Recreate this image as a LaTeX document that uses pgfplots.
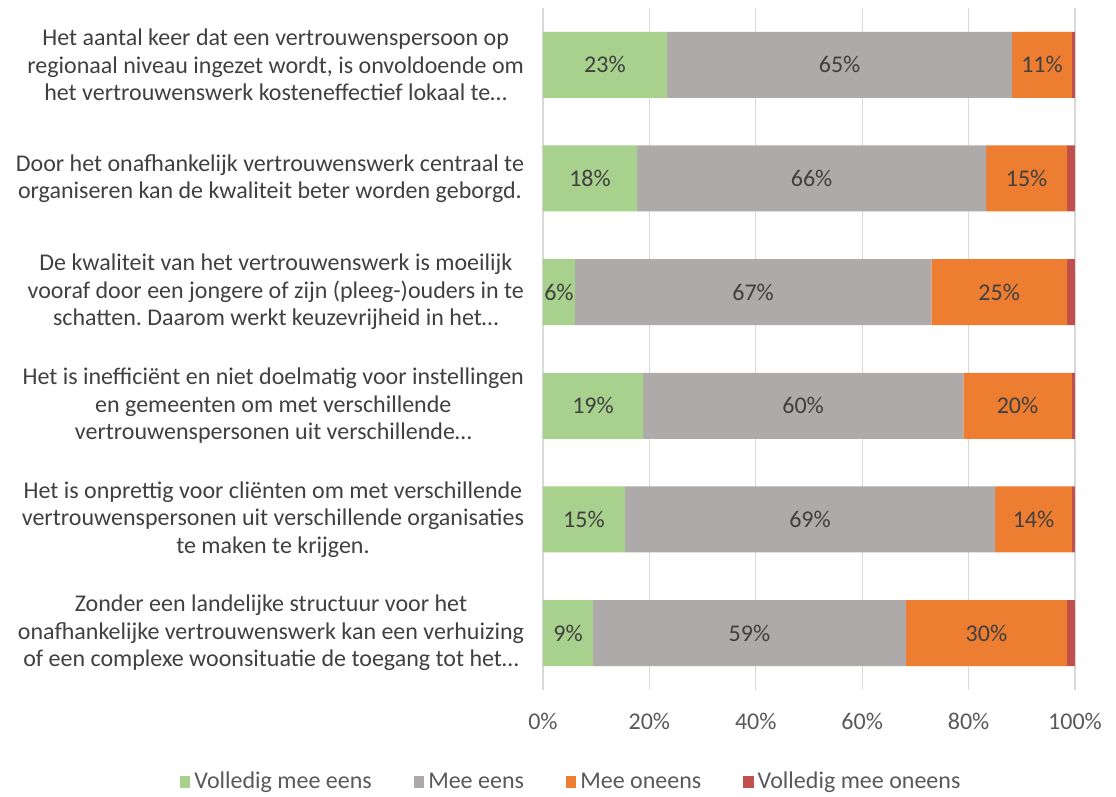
\documentclass[border=0pt]{standalone}
\usepackage{pgfplots}
\pgfplotsset{compat=1.18}
\usepackage{fontspec}
\setmainfont{Carlito}
\frenchspacing
\definecolor{cgreen}{HTML}{A9D18E}
\definecolor{cgray}{HTML}{AEAAAA}
\definecolor{corange}{HTML}{ED7D31}
\definecolor{cred}{HTML}{C0504D}
\definecolor{ctext}{HTML}{404040}
\definecolor{ctick}{HTML}{595959}
\definecolor{cgrid}{HTML}{D9D9D9}
\begin{document}
\begin{tikzpicture}
\begin{axis}[
  scale only axis,
  width=266pt, height=341pt,
  xbar stacked,
  bar width=33pt,
  xmin=0, xmax=100,
  ymin=-0.5, ymax=5.5,
  xtick={0,20,40,60,80,100},
  xticklabel={\pgfmathprintnumber{\tick}\%},
  /pgf/number format/assume math mode=true,
  ytick={0,1,2,3,4,5},
  yticklabels={
    {Zonder een landelijke structuur voor het\\onafhankelijke vertrouwenswerk kan een verhuizing\\of een complexe woonsituatie de toegang tot het…},
    {Het is onprettig voor cliënten om met verschillende\\vertrouwenspersonen uit verschillende organisaties\\te maken te krijgen.},
    {Het is inefficiënt en niet doelmatig voor instellingen\\en gemeenten om met verschillende\\vertrouwenspersonen uit verschillende…},
    {De kwaliteit van het vertrouwenswerk is moeilijk\\vooraf door een jongere of zijn (pleeg-)ouders in te\\schatten. Daarom werkt keuzevrijheid in het…},
    {Door het onafhankelijk vertrouwenswerk centraal te\\organiseren kan de kwaliteit beter worden geborgd.},
    {Het aantal keer dat een vertrouwenspersoon op\\regionaal niveau ingezet wordt, is onvoldoende om\\het vertrouwenswerk kosteneffectief lokaal te…}
  },
  yticklabel style={align=center, font={\fontsize{12}{13.75}\selectfont}, text=ctext, xshift=-6pt},
  xticklabel style={font={\fontsize{12}{14}\selectfont}, text=ctick, yshift=-8pt},
  major tick length=0pt,
  axis line style={draw=none},
  xmajorgrids,
  grid style={draw=cgrid, line width=0.6pt},
  point meta=explicit symbolic,
  nodes near coords,
  every node near coord/.append style={anchor=center, font={\fontsize{12}{14}\selectfont}, text=ctext},
  legend style={at={(0.055,-0.135)}, anchor=center, draw=none, legend columns=-1,
    font={\fontsize{12}{14}\selectfont}, text=ctick,
    /tikz/every even column/.append style={column sep=19pt}},
  legend image code/.code={\fill[#1] (0pt,-2.8pt) rectangle (5.2pt,2.8pt);},
]
\addplot[fill=cgreen, draw=none] coordinates {
  (9.4,0)[9\%] (15.4,1)[15\%] (18.8,2)[19\%] (6.0,3)[6\%] (17.7,4)[18\%] (23.3,5)[23\%]};
\addplot[fill=cgray, draw=none] coordinates {
  (58.8,0)[59\%] (69.6,1)[69\%] (60.2,2)[60\%] (67.0,3)[67\%] (65.6,4)[66\%] (64.9,5)[65\%]};
\addplot[fill=corange, draw=none] coordinates {
  (30.3,0)[30\%] (14.4,1)[14\%] (20.4,2)[20\%] (25.5,3)[25\%] (15.2,4)[15\%] (11.2,5)[11\%]};
\addplot[fill=cred, draw=none] coordinates {
  (1.5,0)[] (0.6,1)[] (0.6,2)[] (1.5,3)[] (1.5,4)[] (0.6,5)[]};
\legend{Volledig mee eens, Mee eens, Mee oneens, Volledig mee oneens}
\end{axis}
\pgfresetboundingbox
\path (-271.5pt,-53.5pt) rectangle (286.5pt,345pt);
\end{tikzpicture}
\end{document}
